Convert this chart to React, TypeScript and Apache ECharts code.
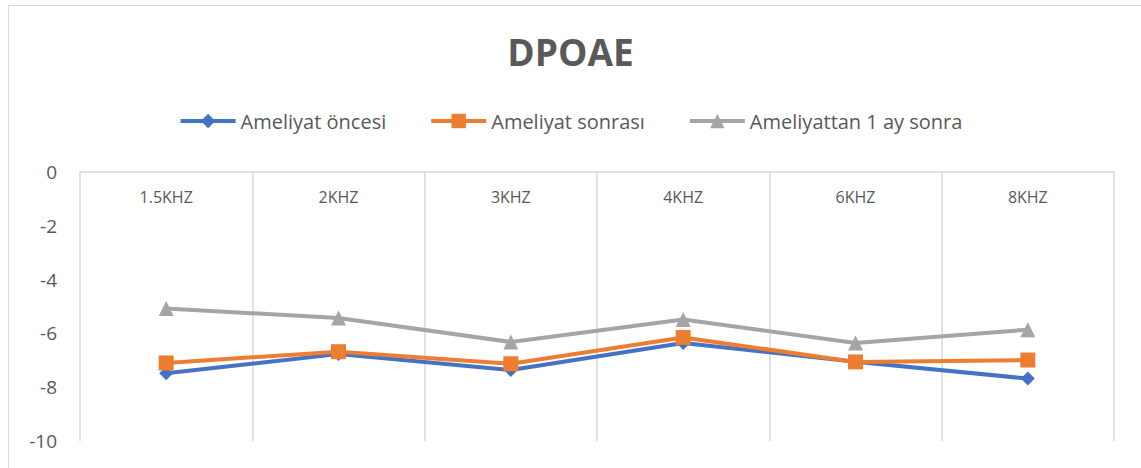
import React, { useEffect, useRef } from "react";
import * as echarts from "echarts";

const categories = ["1.5KHZ", "2KHZ", "3KHZ", "4KHZ", "6KHZ", "8KHZ"];
const seriesNames = ["Ameliyat öncesi", "Ameliyat sonrası", "Ameliyattan 1 ay sonra"];
const preOp = [-7.48, -6.77, -7.36, -6.36, -7.05, -7.68];
const postOp = [-7.1, -6.68, -7.13, -6.15, -7.06, -6.99];
const oneMonth = [-5.07, -5.43, -6.32, -5.48, -6.36, -5.86];
const yTicks = { min: -10, max: 0, interval: 2 };

const FONT = "'Open Sans', sans-serif";
const TEXT = "#595959";

export default function App() {
  const ref = useRef<HTMLDivElement>(null);
  useEffect(() => {
    if (!ref.current) return;
    const chart = echarts.init(ref.current, undefined, { renderer: "svg" });
    const mk = (name: string, data: number[], color: string, symbol: string, size: number) => ({
      name,
      type: "line",
      data,
      symbol,
      symbolSize: size,
      lineStyle: { color, width: 4 },
      itemStyle: { color },
      z: 3,
    });
    chart.setOption({
      animation: false,
      backgroundColor: "#fff",
      textStyle: { fontFamily: FONT },
      title: {
        text: "DPOAE",
        left: "center",
        top: 28,
        textStyle: { fontSize: 37, fontWeight: "bold", color: TEXT, fontFamily: FONT },
      },
      legend: {
        top: 106,
        left: "center",
        itemWidth: 55,
        itemHeight: 18,
        itemGap: 43,
        lineStyle: { width: 4 },
        textStyle: { fontSize: 20, color: TEXT, fontFamily: FONT },
        data: seriesNames,
      },
      grid: { left: 80, right: 27, top: 172, bottom: 27, containLabel: false },
      xAxis: {
        type: "category",
        data: categories,
        position: "top",
        boundaryGap: true,
        axisLine: { show: true, lineStyle: { color: "#d9d9d9", width: 1.5 } },
        axisTick: { show: false },
        axisLabel: { inside: true, margin: 17, color: TEXT, fontSize: 16, fontFamily: FONT, verticalAlign: "top" },
        splitLine: { show: true, lineStyle: { color: "#d9d9d9", width: 1.5 } },
      },
      yAxis: {
        type: "value",
        min: yTicks.min,
        max: yTicks.max,
        interval: yTicks.interval,
        axisLine: { show: false },
        axisTick: { show: false },
        splitLine: { show: false },
        axisLabel: { color: TEXT, fontSize: 19, margin: 23, fontFamily: FONT },
      },
      graphic: [
        {
          type: "rect",
          shape: { x: 8.5, y: 5.5, width: 1140, height: 470 },
          style: { fill: "none", stroke: "#d9d9d9", lineWidth: 1 },
          silent: true,
        },
      ],
      series: [
        mk(seriesNames[0], preOp, "#4472C4", "diamond", 14),
        mk(seriesNames[1], postOp, "#ED7D31", "rect", 15),
        mk(seriesNames[2], oneMonth, "#A5A5A5", "triangle", 15),
      ],
    });
    return () => chart.dispose();
  }, []);
  return (
    <div
      ref={ref}
      style={{ position: "fixed", left: 0, top: 0, width: 1141, height: 468 }}
    />
  );
}
